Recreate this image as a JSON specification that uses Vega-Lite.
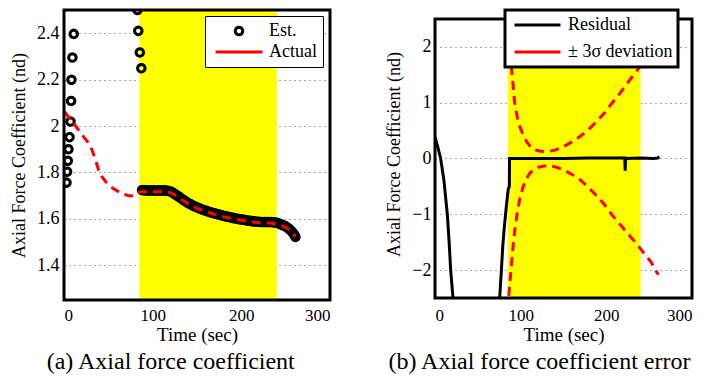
{
  "$schema": "https://vega.github.io/schema/vega-lite/v6.json",
  "padding": {"left": 10, "top": 8, "right": 0, "bottom": 0},
  "background": "white",
  "spacing": 53,
  "resolve": {"scale": {"color": "independent", "shape": "independent", "x": "independent", "y": "independent"}, "legend": {"color": "independent", "shape": "independent"}},
  "config": {
    "font": "Liberation Serif",
    "view": {"stroke": null},
    "axis": {"labelFont": "Liberation Serif", "titleFont": "Liberation Serif", "labelColor": "black", "titleColor": "black", "titleFontWeight": "normal", "ticks": false, "domain": false, "grid": false},
    "axisY": {"labelFontSize": 18, "titleFontSize": 18, "labelPadding": 5, "titlePadding": 8.5, "grid": true, "gridColor": "#555555", "gridDash": [1, 4], "gridWidth": 1.2},
    "axisX": {"labelFontSize": 17, "titleFontSize": 19, "labelPadding": 7, "titlePadding": 2},
    "legend": {"labelFont": "Liberation Serif", "labelFontSize": 18, "labelColor": "black"},
    "title": {"font": "Liberation Serif", "fontSize": 24, "fontWeight": "normal", "color": "black"}
  },
  "datasets": {
    "band": [{"t": 85, "t2": 240}],
    "est": [
      {"t": 2.8, "v": 1.756, "s": "Est."}, {"t": 3.5, "v": 1.803, "s": "Est."}, {"t": 4.3, "v": 1.85, "s": "Est."}, {"t": 5, "v": 1.9, "s": "Est."}, {"t": 6.2, "v": 1.952, "s": "Est."}, {"t": 7.3, "v": 2.019, "s": "Est."}, {"t": 8, "v": 2.108, "s": "Est."}, {"t": 8.4, "v": 2.199, "s": "Est."}, {"t": 9.5, "v": 2.295, "s": "Est."}, {"t": 11, "v": 2.397, "s": "Est."}, {"t": 12.5, "v": 2.55, "s": "Est."}, {"t": 14, "v": 2.75, "s": "Est."}, {"t": 16, "v": 2.95, "s": "Est."},
      {"t": 80, "v": 2.9, "s": "Est."}, {"t": 81.5, "v": 2.7, "s": "Est."}, {"t": 82.8, "v": 2.5, "s": "Est."}, {"t": 83.8, "v": 2.41, "s": "Est."}, {"t": 85.5, "v": 2.317, "s": "Est."}, {"t": 87.2, "v": 2.249, "s": "Est."},
      {"t": 88, "v": 1.724, "s": "Est."}, {"t": 90, "v": 1.723, "s": "Est."}, {"t": 92, "v": 1.723, "s": "Est."}, {"t": 94, "v": 1.722, "s": "Est."}, {"t": 96, "v": 1.722, "s": "Est."}, {"t": 98, "v": 1.722, "s": "Est."}, {"t": 100, "v": 1.723, "s": "Est."}, {"t": 102, "v": 1.722, "s": "Est."}, {"t": 104, "v": 1.722, "s": "Est."}, {"t": 106, "v": 1.722, "s": "Est."}, {"t": 108, "v": 1.722, "s": "Est."}, {"t": 110, "v": 1.722, "s": "Est."}, {"t": 112, "v": 1.722, "s": "Est."}, {"t": 114, "v": 1.722, "s": "Est."}, {"t": 116, "v": 1.721, "s": "Est."}, {"t": 118, "v": 1.72, "s": "Est."}, {"t": 120, "v": 1.718, "s": "Est."}, {"t": 122, "v": 1.714, "s": "Est."}, {"t": 124, "v": 1.709, "s": "Est."}, {"t": 126, "v": 1.704, "s": "Est."}, {"t": 128, "v": 1.699, "s": "Est."}, {"t": 130, "v": 1.694, "s": "Est."}, {"t": 132, "v": 1.688, "s": "Est."}, {"t": 134, "v": 1.683, "s": "Est."}, {"t": 136, "v": 1.678, "s": "Est."}, {"t": 138, "v": 1.673, "s": "Est."}, {"t": 140, "v": 1.668, "s": "Est."}, {"t": 142, "v": 1.664, "s": "Est."}, {"t": 144, "v": 1.66, "s": "Est."}, {"t": 146, "v": 1.656, "s": "Est."}, {"t": 148, "v": 1.652, "s": "Est."}, {"t": 150, "v": 1.649, "s": "Est."}, {"t": 152, "v": 1.646, "s": "Est."}, {"t": 154, "v": 1.643, "s": "Est."}, {"t": 156, "v": 1.64, "s": "Est."}, {"t": 158, "v": 1.637, "s": "Est."}, {"t": 160, "v": 1.635, "s": "Est."}, {"t": 162, "v": 1.632, "s": "Est."}, {"t": 164, "v": 1.63, "s": "Est."}, {"t": 166, "v": 1.627, "s": "Est."}, {"t": 168, "v": 1.625, "s": "Est."}, {"t": 170, "v": 1.623, "s": "Est."}, {"t": 172, "v": 1.621, "s": "Est."}, {"t": 174, "v": 1.619, "s": "Est."}, {"t": 176, "v": 1.617, "s": "Est."}, {"t": 178, "v": 1.615, "s": "Est."}, {"t": 180, "v": 1.613, "s": "Est."}, {"t": 182, "v": 1.611, "s": "Est."}, {"t": 184, "v": 1.609, "s": "Est."}, {"t": 186, "v": 1.608, "s": "Est."}, {"t": 188, "v": 1.606, "s": "Est."}, {"t": 190, "v": 1.604, "s": "Est."}, {"t": 192, "v": 1.603, "s": "Est."}, {"t": 194, "v": 1.601, "s": "Est."}, {"t": 196, "v": 1.6, "s": "Est."}, {"t": 198, "v": 1.598, "s": "Est."}, {"t": 200, "v": 1.597, "s": "Est."}, {"t": 202, "v": 1.596, "s": "Est."}, {"t": 204, "v": 1.595, "s": "Est."}, {"t": 206, "v": 1.593, "s": "Est."}, {"t": 208, "v": 1.592, "s": "Est."}, {"t": 210, "v": 1.591, "s": "Est."}, {"t": 212, "v": 1.59, "s": "Est."}, {"t": 214, "v": 1.589, "s": "Est."}, {"t": 216, "v": 1.588, "s": "Est."}, {"t": 218, "v": 1.587, "s": "Est."}, {"t": 220, "v": 1.587, "s": "Est."}, {"t": 222, "v": 1.586, "s": "Est."}, {"t": 224, "v": 1.586, "s": "Est."}, {"t": 226, "v": 1.586, "s": "Est."}, {"t": 228, "v": 1.586, "s": "Est."}, {"t": 230, "v": 1.586, "s": "Est."}, {"t": 232, "v": 1.586, "s": "Est."}, {"t": 234, "v": 1.586, "s": "Est."}, {"t": 236, "v": 1.585, "s": "Est."}, {"t": 238, "v": 1.584, "s": "Est."}, {"t": 240, "v": 1.583, "s": "Est."}, {"t": 242, "v": 1.58, "s": "Est."}, {"t": 244, "v": 1.577, "s": "Est."}, {"t": 246, "v": 1.574, "s": "Est."}, {"t": 248, "v": 1.571, "s": "Est."}, {"t": 250, "v": 1.567, "s": "Est."}, {"t": 252, "v": 1.562, "s": "Est."}, {"t": 254, "v": 1.556, "s": "Est."}, {"t": 256, "v": 1.549, "s": "Est."}, {"t": 258, "v": 1.54, "s": "Est."}, {"t": 260, "v": 1.53, "s": "Est."}, {"t": 261, "v": 1.522, "s": "Est."}
    ],
    "act": [
      {"t": 0.5, "v": 2.062, "s": "Actual"}, {"t": 5, "v": 2.04, "s": "Actual"}, {"t": 10.5, "v": 2.012, "s": "Actual"}, {"t": 16, "v": 1.985, "s": "Actual"}, {"t": 22, "v": 1.954, "s": "Actual"}, {"t": 27, "v": 1.93, "s": "Actual"}, {"t": 31.6, "v": 1.897, "s": "Actual"}, {"t": 35, "v": 1.86, "s": "Actual"}, {"t": 39, "v": 1.811, "s": "Actual"}, {"t": 43, "v": 1.78, "s": "Actual"}, {"t": 48.5, "v": 1.753, "s": "Actual"}, {"t": 55, "v": 1.732, "s": "Actual"}, {"t": 61.6, "v": 1.717, "s": "Actual"}, {"t": 68, "v": 1.705, "s": "Actual"}, {"t": 75, "v": 1.698, "s": "Actual"}, {"t": 79, "v": 1.7, "s": "Actual"}, {"t": 83, "v": 1.712, "s": "Actual"}, {"t": 87, "v": 1.717, "s": "Actual"}, {"t": 95, "v": 1.717, "s": "Actual"}, {"t": 105, "v": 1.717, "s": "Actual"}, {"t": 115, "v": 1.716, "s": "Actual"}, {"t": 120, "v": 1.713, "s": "Actual"}, {"t": 125, "v": 1.703, "s": "Actual"}, {"t": 130, "v": 1.69, "s": "Actual"}, {"t": 135, "v": 1.677, "s": "Actual"}, {"t": 140, "v": 1.665, "s": "Actual"}, {"t": 145, "v": 1.654, "s": "Actual"}, {"t": 150, "v": 1.645, "s": "Actual"}, {"t": 155, "v": 1.638, "s": "Actual"}, {"t": 160, "v": 1.632, "s": "Actual"}, {"t": 165, "v": 1.625, "s": "Actual"}, {"t": 170, "v": 1.619, "s": "Actual"}, {"t": 175, "v": 1.614, "s": "Actual"}, {"t": 180, "v": 1.609, "s": "Actual"}, {"t": 185, "v": 1.605, "s": "Actual"}, {"t": 190, "v": 1.601, "s": "Actual"}, {"t": 195, "v": 1.597, "s": "Actual"}, {"t": 200, "v": 1.594, "s": "Actual"}, {"t": 205, "v": 1.591, "s": "Actual"}, {"t": 210, "v": 1.588, "s": "Actual"}, {"t": 215, "v": 1.585, "s": "Actual"}, {"t": 220, "v": 1.583, "s": "Actual"}, {"t": 225, "v": 1.582, "s": "Actual"}, {"t": 230, "v": 1.582, "s": "Actual"}, {"t": 235, "v": 1.581, "s": "Actual"}, {"t": 240, "v": 1.578, "s": "Actual"}, {"t": 245, "v": 1.572, "s": "Actual"}, {"t": 250, "v": 1.563, "s": "Actual"}, {"t": 253, "v": 1.555, "s": "Actual"}, {"t": 256, "v": 1.545, "s": "Actual"}, {"t": 259, "v": 1.533, "s": "Actual"}, {"t": 261, "v": 1.524, "s": "Actual"}
    ],
    "res": [
      {"t": 0, "v": 0.38, "s": "Residual", "g": "a"}, {"t": 3, "v": 0.22, "s": "Residual", "g": "a"}, {"t": 6.6, "v": 0, "s": "Residual", "g": "a"}, {"t": 10.5, "v": -0.4, "s": "Residual", "g": "a"}, {"t": 14.4, "v": -1.0, "s": "Residual", "g": "a"}, {"t": 16.5, "v": -1.5, "s": "Residual", "g": "a"}, {"t": 18.3, "v": -2.0, "s": "Residual", "g": "a"}, {"t": 21, "v": -2.5, "s": "Residual", "g": "a"}, {"t": 22, "v": -2.8, "s": "Residual", "g": "a"},
      {"t": 75, "v": -2.8, "s": "Residual", "g": "b"}, {"t": 75.5, "v": -2.5, "s": "Residual", "g": "b"}, {"t": 77.5, "v": -2.0, "s": "Residual", "g": "b"}, {"t": 79, "v": -1.6, "s": "Residual", "g": "b"}, {"t": 80.5, "v": -1.3, "s": "Residual", "g": "b"}, {"t": 83, "v": -0.9, "s": "Residual", "g": "b"}, {"t": 85.5, "v": -0.55, "s": "Residual", "g": "b"}, {"t": 86.8, "v": -0.5, "s": "Residual", "g": "b"}, {"t": 87, "v": 0, "s": "Residual", "g": "b"}, {"t": 100, "v": 0, "s": "Residual", "g": "b"}, {"t": 150, "v": 0, "s": "Residual", "g": "b"}, {"t": 180, "v": 0.01, "s": "Residual", "g": "b"}, {"t": 200, "v": 0.01, "s": "Residual", "g": "b"}, {"t": 221.5, "v": 0.01, "s": "Residual", "g": "b"}, {"t": 222, "v": -0.22, "s": "Residual", "g": "b"}, {"t": 222.5, "v": 0, "s": "Residual", "g": "b"}, {"t": 240, "v": 0.01, "s": "Residual", "g": "b"}, {"t": 255, "v": 0, "s": "Residual", "g": "b"}, {"t": 260, "v": 0.01, "s": "Residual", "g": "b"}, {"t": 262, "v": 0.03, "s": "Residual", "g": "b"}
    ],
    "sig": [
      {"t": 86, "v": 3.0, "s": "± 3σ deviation", "g": "up"}, {"t": 87, "v": 2.3, "s": "± 3σ deviation", "g": "up"}, {"t": 88.5, "v": 1.8, "s": "± 3σ deviation", "g": "up"}, {"t": 90, "v": 1.5, "s": "± 3σ deviation", "g": "up"}, {"t": 93, "v": 1.0, "s": "± 3σ deviation", "g": "up"}, {"t": 96, "v": 0.75, "s": "± 3σ deviation", "g": "up"}, {"t": 99, "v": 0.57, "s": "± 3σ deviation", "g": "up"}, {"t": 103, "v": 0.42, "s": "± 3σ deviation", "g": "up"}, {"t": 107, "v": 0.3, "s": "± 3σ deviation", "g": "up"}, {"t": 111, "v": 0.22, "s": "± 3σ deviation", "g": "up"}, {"t": 116, "v": 0.16, "s": "± 3σ deviation", "g": "up"}, {"t": 122, "v": 0.135, "s": "± 3σ deviation", "g": "up"}, {"t": 128, "v": 0.125, "s": "± 3σ deviation", "g": "up"}, {"t": 134, "v": 0.13, "s": "± 3σ deviation", "g": "up"}, {"t": 141, "v": 0.155, "s": "± 3σ deviation", "g": "up"}, {"t": 148, "v": 0.2, "s": "± 3σ deviation", "g": "up"}, {"t": 158, "v": 0.28, "s": "± 3σ deviation", "g": "up"}, {"t": 168, "v": 0.38, "s": "± 3σ deviation", "g": "up"}, {"t": 178, "v": 0.5, "s": "± 3σ deviation", "g": "up"}, {"t": 188, "v": 0.65, "s": "± 3σ deviation", "g": "up"}, {"t": 198, "v": 0.82, "s": "± 3σ deviation", "g": "up"}, {"t": 207, "v": 1.0, "s": "± 3σ deviation", "g": "up"}, {"t": 215, "v": 1.15, "s": "± 3σ deviation", "g": "up"}, {"t": 223, "v": 1.32, "s": "± 3σ deviation", "g": "up"}, {"t": 231, "v": 1.48, "s": "± 3σ deviation", "g": "up"}, {"t": 238, "v": 1.62, "s": "± 3σ deviation", "g": "up"}, {"t": 245, "v": 1.76, "s": "± 3σ deviation", "g": "up"}, {"t": 252, "v": 1.9, "s": "± 3σ deviation", "g": "up"}, {"t": 258, "v": 2.03, "s": "± 3σ deviation", "g": "up"}, {"t": 261, "v": 2.1, "s": "± 3σ deviation", "g": "up"},
      {"t": 85, "v": -3.0, "s": "± 3σ deviation", "g": "lo"}, {"t": 85.5, "v": -2.6, "s": "± 3σ deviation", "g": "lo"}, {"t": 87, "v": -2.3, "s": "± 3σ deviation", "g": "lo"}, {"t": 89, "v": -1.95, "s": "± 3σ deviation", "g": "lo"}, {"t": 91, "v": -1.6, "s": "± 3σ deviation", "g": "lo"}, {"t": 93, "v": -1.3, "s": "± 3σ deviation", "g": "lo"}, {"t": 96, "v": -0.98, "s": "± 3σ deviation", "g": "lo"}, {"t": 99, "v": -0.72, "s": "± 3σ deviation", "g": "lo"}, {"t": 103, "v": -0.5, "s": "± 3σ deviation", "g": "lo"}, {"t": 107, "v": -0.35, "s": "± 3σ deviation", "g": "lo"}, {"t": 111, "v": -0.26, "s": "± 3σ deviation", "g": "lo"}, {"t": 116, "v": -0.19, "s": "± 3σ deviation", "g": "lo"}, {"t": 122, "v": -0.15, "s": "± 3σ deviation", "g": "lo"}, {"t": 128, "v": -0.135, "s": "± 3σ deviation", "g": "lo"}, {"t": 134, "v": -0.13, "s": "± 3σ deviation", "g": "lo"}, {"t": 141, "v": -0.155, "s": "± 3σ deviation", "g": "lo"}, {"t": 148, "v": -0.19, "s": "± 3σ deviation", "g": "lo"}, {"t": 158, "v": -0.27, "s": "± 3σ deviation", "g": "lo"}, {"t": 168, "v": -0.36, "s": "± 3σ deviation", "g": "lo"}, {"t": 178, "v": -0.5, "s": "± 3σ deviation", "g": "lo"}, {"t": 188, "v": -0.66, "s": "± 3σ deviation", "g": "lo"}, {"t": 198, "v": -0.83, "s": "± 3σ deviation", "g": "lo"}, {"t": 207, "v": -1.02, "s": "± 3σ deviation", "g": "lo"}, {"t": 215, "v": -1.16, "s": "± 3σ deviation", "g": "lo"}, {"t": 223, "v": -1.31, "s": "± 3σ deviation", "g": "lo"}, {"t": 231, "v": -1.45, "s": "± 3σ deviation", "g": "lo"}, {"t": 238, "v": -1.58, "s": "± 3σ deviation", "g": "lo"}, {"t": 245, "v": -1.72, "s": "± 3σ deviation", "g": "lo"}, {"t": 252, "v": -1.85, "s": "± 3σ deviation", "g": "lo"}, {"t": 258, "v": -2.02, "s": "± 3σ deviation", "g": "lo"}, {"t": 261, "v": -2.08, "s": "± 3σ deviation", "g": "lo"}
    ]
  },
  "hconcat": [
    {
      "width": 266,
      "height": 290,
      "title": {"text": "(a) Axial force coefficient", "orient": "bottom", "frame": "bounds", "anchor": "middle", "offset": 6},
      "layer": [
        {
          "data": {"name": "band"},
          "mark": {"type": "rect", "color": "#ffff00"},
          "encoding": {
            "x": {"field": "t", "type": "quantitative", "scale": {"domain": [0, 300], "nice": false}, "axis": {"values": [0, 100, 200, 300], "title": "Time (sec)"}},
            "x2": {"field": "t2"},
            "y": {"datum": 1.25, "type": "quantitative", "scale": {"domain": [1.25, 2.5], "nice": false, "zero": false}, "axis": {"values": [1.4, 1.6, 1.8, 2, 2.2, 2.4], "format": "~g", "title": "Axial Force Coefficient (nd)"}},
            "y2": {"datum": 2.5}
          }
        },
        {
          "data": {"name": "est"},
          "mark": {"type": "point", "filled": false, "strokeWidth": 3, "size": 2200, "opacity": 1, "clip": true},
          "encoding": {
            "x": {"field": "t", "type": "quantitative", "scale": {"domain": [0, 300], "nice": false}, "axis": {"values": [0, 100, 200, 300], "title": "Time (sec)"}},
            "y": {"field": "v", "type": "quantitative", "scale": {"domain": [1.25, 2.5], "nice": false, "zero": false}, "axis": {"values": [1.4, 1.6, 1.8, 2, 2.2, 2.4], "format": "~g", "title": "Axial Force Coefficient (nd)"}},
            "shape": {
              "field": "s", "type": "nominal",
              "scale": {"domain": ["Est.", "Actual"], "range": ["M0.16,0L0.148,0.061L0.113,0.113L0.061,0.148L0,0.16L-0.061,0.148L-0.113,0.113L-0.148,0.061L-0.16,0L-0.148,-0.061L-0.113,-0.113L-0.061,-0.148L0,-0.16L0.061,-0.148L0.113,-0.113L0.148,-0.061Z", "stroke"]},
              "legend": {
                "title": null, "orient": "none", "legendX": 141, "legendY": 6, "padding": 6,
                "strokeColor": "black", "fillColor": "white", "clipHeight": 18, "rowPadding": 3,
                "symbolSize": 2200, "symbolStrokeWidth": 3, "symbolOffset": 3, "labelOffset": 5, "labelFontSize": 18,
                "encode": {
                  "legend": {"update": {"strokeWidth": {"value": 3}}},
                  "symbols": {"update": {
                    "strokeDash": {"value": {"expr": "datum.value === 'Est.' ? [1,0] : [9,6]"}},
                    "stroke": {"value": {"expr": "datum.value === 'Est.' ? 'black' : '#ff0000'"}},
                    "fill": {"value": "transparent"},
                    "strokeWidth": {"value": 3},
                    "size": {"value": 2200},
                    "opacity": {"value": 1}
                  }}
                }
              }
            },
            "color": {
              "field": "s", "type": "nominal",
              "scale": {"domain": ["Est.", "Actual"], "range": ["black", "#ff0000"]},
              "legend": {
                "title": null, "orient": "none", "legendX": 141, "legendY": 6, "padding": 6,
                "strokeColor": "black", "fillColor": "white", "clipHeight": 18, "rowPadding": 3,
                "symbolSize": 2200, "symbolStrokeWidth": 3, "symbolOffset": 3, "labelOffset": 5, "labelFontSize": 18,
                "encode": {
                  "legend": {"update": {"strokeWidth": {"value": 3}}},
                  "symbols": {"update": {
                    "strokeDash": {"value": {"expr": "datum.value === 'Est.' ? [1,0] : [9,6]"}},
                    "stroke": {"value": {"expr": "datum.value === 'Est.' ? 'black' : '#ff0000'"}},
                    "fill": {"value": "transparent"},
                    "strokeWidth": {"value": 3},
                    "size": {"value": 2200},
                    "opacity": {"value": 1}
                  }}
                }
              }
            }
          }
        },
        {
          "data": {"name": "act"},
          "mark": {"type": "line", "strokeWidth": 3, "strokeDash": [9, 6], "clip": true},
          "encoding": {
            "x": {"field": "t", "type": "quantitative", "scale": {"domain": [0, 300], "nice": false}, "axis": {"values": [0, 100, 200, 300], "title": "Time (sec)"}},
            "y": {"field": "v", "type": "quantitative", "scale": {"domain": [1.25, 2.5], "nice": false, "zero": false}, "axis": {"values": [1.4, 1.6, 1.8, 2, 2.2, 2.4], "format": "~g", "title": "Axial Force Coefficient (nd)"}},
            "color": {"field": "s", "type": "nominal", "scale": {"domain": ["Est.", "Actual"], "range": ["black", "#ff0000"]}}
          }
        },
        {
          "data": {"values": [{}]},
          "mark": {"type": "rect", "filled": false, "stroke": "black", "strokeWidth": 3},
          "encoding": {
            "x": {"datum": 0, "type": "quantitative"},
            "x2": {"datum": 300},
            "y": {"datum": 1.25, "type": "quantitative"},
            "y2": {"datum": 2.5}
          }
        }
      ]
    },
    {
      "width": 257,
      "height": 288,
      "title": {"text": "(b) Axial force coefficient error", "orient": "bottom", "frame": "bounds", "anchor": "middle", "offset": 6},
      "layer": [
        {
          "data": {"name": "band"},
          "mark": {"type": "rect", "color": "#ffff00"},
          "encoding": {
            "x": {"field": "t", "type": "quantitative", "scale": {"domain": [0, 300], "nice": false}, "axis": {"values": [0, 100, 200, 300], "title": "Time (sec)", "labelPadding": 9}},
            "x2": {"field": "t2"},
            "y": {"datum": -2.5, "type": "quantitative", "scale": {"domain": [-2.5, 2.661], "nice": false, "zero": false}, "axis": {"values": [-2, -1, 0, 1, 2], "format": "d", "title": "Axial Force Coefficient (nd)", "labelPadding": 4}},
            "y2": {"datum": 2.5}
          }
        },
        {
          "data": {"name": "res"},
          "mark": {"type": "line", "strokeWidth": 3, "clip": true},
          "encoding": {
            "x": {"field": "t", "type": "quantitative", "scale": {"domain": [0, 300], "nice": false}, "axis": {"values": [0, 100, 200, 300], "title": "Time (sec)", "labelPadding": 9}},
            "y": {"field": "v", "type": "quantitative", "scale": {"domain": [-2.5, 2.661], "nice": false, "zero": false}, "axis": {"values": [-2, -1, 0, 1, 2], "format": "d", "title": "Axial Force Coefficient (nd)", "labelPadding": 4}},
            "detail": {"field": "g"},
            "color": {
              "field": "s", "type": "nominal",
              "scale": {"domain": ["Residual", "± 3σ deviation"], "range": ["black", "#ff0000"]},
              "legend": {
                "title": null, "orient": "none", "legendX": 70, "legendY": 0, "padding": 5,
                "strokeColor": "black", "fillColor": "white", "clipHeight": 20, "rowPadding": 7,
                "symbolType": "stroke",
                "symbolSize": 2116, "symbolStrokeWidth": 3, "symbolOffset": 3, "labelOffset": 6, "labelFontSize": 18,
                "encode": {
                  "legend": {"update": {"strokeWidth": {"value": 3}}},
                  "symbols": {"update": {
                    "strokeDash": {"value": {"expr": "datum.value === 'Residual' ? [1,0] : [9,6]"}},
                    "stroke": {"value": {"expr": "datum.value === 'Residual' ? 'black' : '#ff0000'"}},
                    "fill": {"value": "transparent"},
                    "strokeWidth": {"value": 3},
                    "size": {"value": 2116},
                    "opacity": {"value": 1}
                  }}
                }
              }
            }
          }
        },
        {
          "data": {"name": "sig"},
          "mark": {"type": "line", "strokeWidth": 3, "strokeDash": [9, 6], "clip": true},
          "encoding": {
            "x": {"field": "t", "type": "quantitative", "scale": {"domain": [0, 300], "nice": false}, "axis": {"values": [0, 100, 200, 300], "title": "Time (sec)", "labelPadding": 9}},
            "y": {"field": "v", "type": "quantitative", "scale": {"domain": [-2.5, 2.661], "nice": false, "zero": false}, "axis": {"values": [-2, -1, 0, 1, 2], "format": "d", "title": "Axial Force Coefficient (nd)", "labelPadding": 4}},
            "detail": {"field": "g"},
            "color": {"field": "s", "type": "nominal", "scale": {"domain": ["Residual", "± 3σ deviation"], "range": ["black", "#ff0000"]}}
          }
        },
        {
          "data": {"values": [{}]},
          "mark": {"type": "rect", "filled": false, "stroke": "black", "strokeWidth": 3},
          "encoding": {
            "x": {"datum": 0, "type": "quantitative"},
            "x2": {"datum": 300},
            "y": {"datum": -2.5, "type": "quantitative"},
            "y2": {"datum": 2.5}
          }
        }
      ]
    }
  ]
}
